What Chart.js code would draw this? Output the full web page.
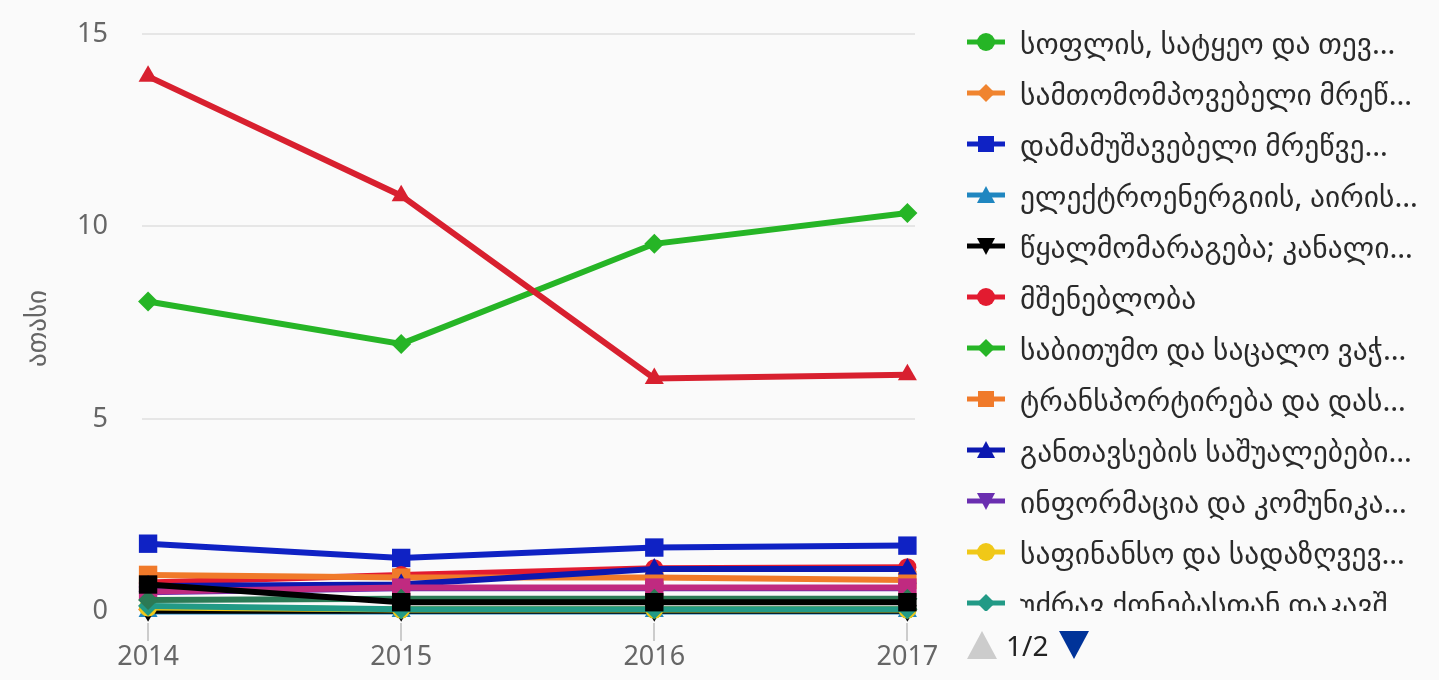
<!DOCTYPE html>
<html>
<head>
<meta charset="utf-8">
<script src="https://cdn.jsdelivr.net/npm/chart.js@4.4.1/dist/chart.umd.min.js"></script>
<style>
  html, body { margin: 0; padding: 0; background: #fafafa; }
  #wrap { position: relative; width: 1439px; height: 680px; overflow: hidden; }
  #chart { position: absolute; left: 0; top: 0; }
  #legend { position: absolute; left: 960px; top: 0; width: 479px; height: 611px; overflow: hidden; }
  .item { position: absolute; left: 0; height: 50px; display: flex; align-items: center; white-space: nowrap; }
  .item canvas { display: block; }
  .item span { margin-left: 12px; font: 29.5px "Noto Sans", "DejaVu Sans", sans-serif; color: #2a2a2a; }
  #pager { position: absolute; left: 966px; top: 626px; display: flex; align-items: center; font: 28px "Noto Sans", "DejaVu Sans", sans-serif; color: #222; }
  #pager span { margin: 0 10px 0 8px; }
</style>
</head>
<body>
<div id="wrap">
  <canvas id="chart" width="1439" height="680"></canvas>
  <div id="legend"></div>
  <div id="pager">
    <svg width="32" height="30"><polygon points="16,1 31,29 1,29" fill="#cccccc"/></svg>
    <span>1/2</span>
    <svg width="32" height="30"><polygon points="1,1 31,1 16,29" fill="#003399"/></svg>
  </div>
</div>
<script>
// categories and axis ticks
const years = ['2014', '2015', '2016', '2017'];
const yTicks = [0, 5, 10, 15];

// values, thousands (page 1 of the legend)
const agriculture   = [0.10, 0.05, 0.05, 0.05];
const mining        = [0.05, 0.05, 0.05, 0.05];
const manufacturing = [1.76, 1.39, 1.66, 1.71];
const electricity   = [0, 0, 0, 0];
const waterSupply   = [0.02, 0.02, 0.02, 0.02];
const construction  = [0.75, 0.95, 1.12, 1.15];
const trade         = [8.05, 6.95, 9.55, 10.35];
const transport     = [0.95, 0.88, 0.88, 0.82];
const accommodation = [0.66, 0.7, 1.1, 1.1];
const information   = [0.5, 0.6, 0.6, 0.6];
const finance       = [0.1, 0.05, 0.05, 0.05];
const realEstate    = [0.14, 0.06, 0.06, 0.06];
// page 2 of the legend (not shown)
const professional  = [0.52, 0.62, 0.62, 0.62];
const administrative = [13.9, 10.8, 6.05, 6.15];
const health        = [0.3, 0.33, 0.33, 0.33];
const arts          = [0.7, 0.24, 0.24, 0.24];

const names = [
  'სოფლის, სატყეო და თევ…',
  'სამთომომპოვებელი მრეწ…',
  'დამამუშავებელი მრეწვე…',
  'ელექტროენერგიის, აირის…',
  'წყალმომარაგება; კანალი…',
  'მშენებლობა',
  'საბითუმო და საცალო ვაჭ…',
  'ტრანსპორტირება და დას…',
  'განთავსების საშუალებები…',
  'ინფორმაცია და კომუნიკა…',
  'საფინანსო და სადაზღვევ…',
  'უძრავ ქონებასთან დაკავშ…',
  'პროფესიული, სამეცნიერო…',
  'ადმინისტრაციული და დამ…',
  'ჯანდაცვა და სოციალური…',
  'ხელოვნება, გართობა და…'
];
const values = [agriculture, mining, manufacturing, electricity, waterSupply, construction,
  trade, transport, accommodation, information, finance, realEstate,
  professional, administrative, health, arts];

const colors = ['#26b526', '#f0842f', '#0f22c4', '#1f86c0', '#000000', '#e21b30',
  '#26b526', '#f07a2a', '#0c18b0', '#6a2eb0', '#f0c818', '#229a86',
  '#c02a80', '#d8202f', '#2b7a55', '#000000'];
const markers = ['circle', 'diamond', 'square', 'triangle', 'triangle-down', 'circle',
  'diamond', 'square', 'triangle', 'triangle-down', 'circle', 'diamond',
  'square', 'triangle', 'diamond', 'square'];
const legendCount = 12;

const pointStyleOf = { circle: 'circle', diamond: 'rectRot', square: 'rect', triangle: 'triangle', 'triangle-down': 'triangle' };
const radiusOf = { circle: 9, diamond: 10, square: 13, triangle: 11, 'triangle-down': 11 };

const datasets = values.map((v, i) => ({
  label: names[i],
  data: v,
  borderColor: colors[i],
  backgroundColor: colors[i],
  borderWidth: 6,
  pointStyle: pointStyleOf[markers[i]],
  pointRotation: markers[i] === 'triangle-down' ? 180 : 0,
  pointRadius: radiusOf[markers[i]],
  pointBorderWidth: 0,
  tension: 0,
  clip: false,
  order: values.length - i
}));

const font = (size) => ({ family: '"Noto Sans", "DejaVu Sans", sans-serif', size });

new Chart(document.getElementById('chart'), {
  type: 'line',
  data: { labels: years, datasets },
  options: {
    responsive: false,
    animation: false,
    layout: { padding: { top: 34, right: 524, bottom: 0, left: 0 } },
    plugins: { legend: { display: false }, tooltip: { enabled: false } },
    scales: {
      x: {
        type: 'linear',
        min: 2013.976,
        max: 2017.03,
        afterBuildTicks: (axis) => { axis.ticks = years.map(y => ({ value: Number(y) })); },
        afterFit: (axis) => { axis.height = 57; },
        ticks: {
          padding: 0,
          maxRotation: 0,
          autoSkip: false,
          color: '#666666',
          font: font(27),
          callback: (v) => String(v)
        },
        grid: { drawOnChartArea: false, drawTicks: true, tickLength: 18, tickColor: '#cccccc', lineWidth: 2 },
        border: { display: false }
      },
      y: {
        min: -0.3,
        max: 15,
        afterBuildTicks: (axis) => { axis.ticks = yTicks.map(v => ({ value: v })); },
        afterFit: (axis) => {
          axis.width = 142;
          axis.paddingTop = 0;
          axis.paddingBottom = 0;
        },
        ticks: {
          padding: 34,
          color: '#666666',
          font: font(27)
        },
        grid: { color: '#e6e6e6', lineWidth: 2, drawTicks: false },
        border: { display: false },
        title: {
          display: true,
          text: 'ათასი',
          color: '#666666',
          padding: { top: 22, bottom: 0 },
          font: font(27)
        }
      }
    }
  }
});

// legend (first page only, as in the paged original)
function drawMarker(ctx, kind, x, y, color) {
  ctx.fillStyle = color;
  ctx.beginPath();
  if (kind === 'circle') {
    ctx.arc(x, y, 9, 0, Math.PI * 2);
  } else if (kind === 'diamond') {
    ctx.moveTo(x, y - 9); ctx.lineTo(x + 9, y); ctx.lineTo(x, y + 9); ctx.lineTo(x - 9, y);
  } else if (kind === 'square') {
    ctx.rect(x - 8, y - 8, 16, 16);
  } else if (kind === 'triangle') {
    ctx.moveTo(x, y - 9); ctx.lineTo(x + 9, y + 8); ctx.lineTo(x - 9, y + 8);
  } else {
    ctx.moveTo(x - 9, y - 8); ctx.lineTo(x + 9, y - 8); ctx.lineTo(x, y + 9);
  }
  ctx.closePath();
  ctx.fill();
}

const legend = document.getElementById('legend');
for (let i = 0; i < legendCount; i++) {
  const item = document.createElement('div');
  item.className = 'item';
  item.style.top = (42 + 51 * i - 25) + 'px';
  const c = document.createElement('canvas');
  c.width = 48; c.height = 30;
  const ctx = c.getContext('2d');
  ctx.strokeStyle = colors[i];
  ctx.lineWidth = 5;
  ctx.beginPath(); ctx.moveTo(7, 15); ctx.lineTo(45, 15); ctx.stroke();
  drawMarker(ctx, markers[i], 26, 15, colors[i]);
  const t = document.createElement('span');
  t.textContent = names[i];
  item.appendChild(c);
  item.appendChild(t);
  legend.appendChild(item);
}
</script>
</body>
</html>
